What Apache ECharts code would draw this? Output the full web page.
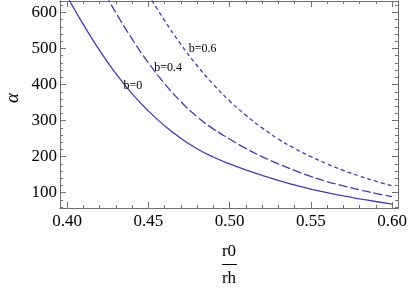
<!DOCTYPE html>
<html>
<head>
<meta charset="utf-8">
<script src="https://cdn.jsdelivr.net/npm/echarts@6/dist/echarts.min.js"></script>
<style>html,body{margin:0;padding:0;background:#fff}#c{width:410px;height:292px}</style>
</head>
<body>
<div id="c"></div>
<script>
// ---- data ----
const xValues = [0.40,0.41,0.42,0.43,0.44,0.45,0.46,0.47,0.48,0.49,0.50,0.51,0.52,0.53,0.54,0.55,0.56,0.57,0.58,0.59,0.60];
const alphaB0  = [645,567,495,431,375,327,286,251,222,199,180,163,148,134,121.5,110,100,91,83,75.5,68.5];
const alphaB04 = [null,null,680,600,527,461,403,353,311,277,249,223,200,180,162,145,131,119,108,98,89];
const alphaB06 = [null,null,null,null,null,650,578,512,453,401,355,315,280,249,223,200,180,162,146,132,119];
const curveLabels = ['b=0','b=0.4','b=0.6'];
const labelCoords = [[0.4406,396],[0.4622,447],[0.4834,498]];
const xMajor = [0.40,0.45,0.50,0.55,0.60];
const xMinor = [0.41,0.42,0.43,0.44,0.46,0.47,0.48,0.49,0.51,0.52,0.53,0.54,0.56,0.57,0.58,0.59];
const yMajor = [100,200,300,400,500,600];
const yMinor = [60,80,120,140,160,180,220,240,260,280,320,340,360,380,420,440,460,480,520,540,560,580,620];

const pairs = (ys) => xValues.map((x,i)=>[x, ys[i]]).filter(p=>p[1]!==null);
const serif = 'Liberation Serif';
const col = '#4040a8';
const frame = '#707070';
const X_MIN = 0.39569, X_MAX = 0.60369, Y_MIN = 57.5, Y_MAX = 631.9;

function xAx(pos, ticks, len, labels){
  return {type:'value', position:pos, min:X_MIN, max:X_MAX,
    axisLine:{show:true, onZero:false, lineStyle:{color:frame,width:1}},
    axisTick:{show:true, inside:true, length:len, customValues:ticks, lineStyle:{color:frame}},
    axisLabel:labels ? {show:true, customValues:xMajor, formatter:v=>v.toFixed(2), fontFamily:serif, fontSize:17, color:'#000', margin:5}:{show:false},
    splitLine:{show:false}};
}
function yAx(pos, ticks, len, labels){
  return {type:'value', position:pos, min:Y_MIN, max:Y_MAX,
    axisLine:{show:true, onZero:false, lineStyle:{color:frame,width:1}},
    axisTick:{show:true, inside:true, length:len, customValues:ticks, lineStyle:{color:frame}},
    axisLabel:labels ? {show:true, customValues:yMajor, fontFamily:serif, fontSize:17, color:'#000', margin:3}:{show:false},
    splitLine:{show:false}};
}
function mk(i){
  return {symbol:'circle', symbolSize:1, itemStyle:{color:'rgba(0,0,0,0)'}, silent:true,
    label:{show:true, position:'inside', formatter:curveLabels[i], fontFamily:serif, fontSize:12, color:'#000'},
    data:[{coord:labelCoords[i]}]};
}
const chart = echarts.init(document.getElementById('c'), null, {renderer:'canvas'});
chart.setOption({
  animation:false,
  grid:{left:60, right:12, top:1, bottom:84},
  xAxis:[xAx('bottom', xMajor, 6, true), xAx('bottom', xMinor, 3, false), xAx('top', xMajor, 6, false), xAx('top', xMinor, 3, false)],
  yAxis:[yAx('left', yMajor, 6, true), yAx('left', yMinor, 3, false), yAx('right', yMajor, 6, false), yAx('right', yMinor, 3, false)],
  series:[
    {type:'line', data:pairs(alphaB0), smooth:true, showSymbol:false, clip:true, lineStyle:{color:col, width:1.3}, markPoint:mk(0)},
    {type:'line', data:pairs(alphaB04), smooth:true, showSymbol:false, clip:true, lineStyle:{color:col, width:1.3, type:[9,3]}, markPoint:mk(1)},
    {type:'line', data:pairs(alphaB06), smooth:true, showSymbol:false, clip:true, lineStyle:{color:col, width:1.3, type:[4,3]}, markPoint:mk(2)}
  ],
  graphic:[
    {type:'text', x:13, y:98, rotation:Math.PI/2, style:{text:'α', font:'italic 19px "Liberation Serif"', fill:'#000', align:'center', verticalAlign:'middle'}},
    {type:'text', x:229, y:252, style:{text:'r0', font:'17px "Liberation Serif"', fill:'#000', align:'center', verticalAlign:'middle'}},
    {type:'line', shape:{x1:222, y1:264.5, x2:237, y2:264.5}, style:{stroke:'#000', lineWidth:1}},
    {type:'text', x:229, y:279, style:{text:'rh', font:'17px "Liberation Serif"', fill:'#000', align:'center', verticalAlign:'middle'}}
  ]
});
</script>
</body>
</html>
